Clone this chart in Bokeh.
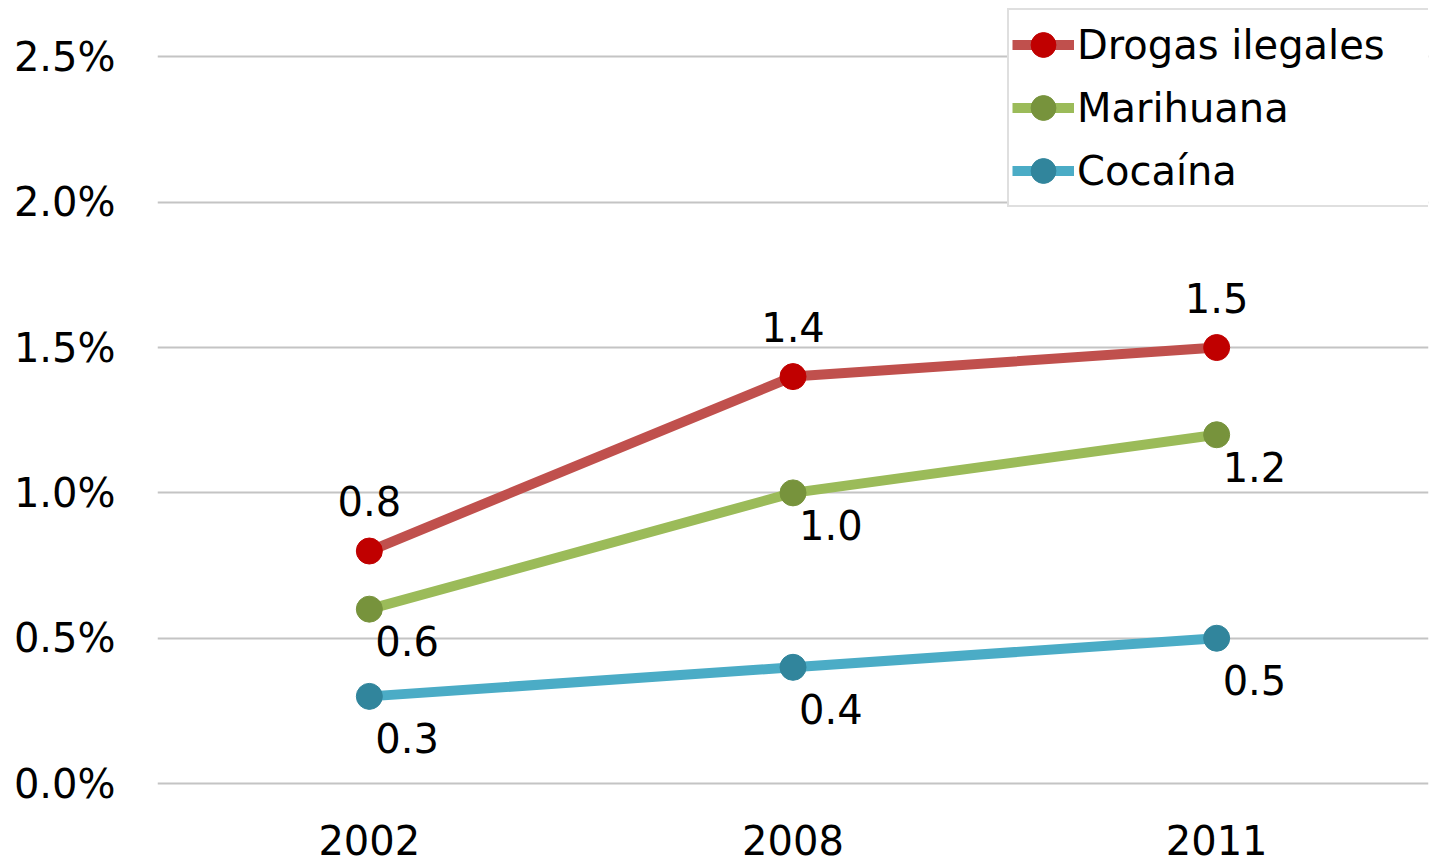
from bokeh.plotting import figure
from bokeh.models import FactorRange, Range1d, FixedTicker, PrintfTickFormatter, Legend, LegendItem, ColumnDataSource
from bokeh.core.properties import value
from bokeh.embed import file_html
from bokeh.resources import INLINE

years = ["2002", "2008", "2011"]
drogas = [0.8, 1.4, 1.5]
marihuana = [0.6, 1.0, 1.2]
cocaina = [0.3, 0.4, 0.5]
series_names = ["Drogas ilegales", "Marihuana", "Cocaína"]
y_ticks = [0.0, 0.5, 1.0, 1.5, 2.0, 2.5]

FONT = "DejaVu Sans"

p = figure(width=1435, height=862, x_range=FactorRange(*years, range_padding=0),
           y_range=Range1d(-0.01, 2.68), output_backend="svg", toolbar_location=None,
           min_border_left=157, min_border_right=7, min_border_top=4, min_border_bottom=76)
p.outline_line_color = None
p.xgrid.grid_line_color = None
p.ygrid.grid_line_color = "#C4C4C4"
p.ygrid.grid_line_width = 2
p.yaxis.ticker = FixedTicker(ticks=y_ticks)
p.yaxis.formatter = PrintfTickFormatter(format="%.1f%%")
for ax in (p.xaxis[0], p.yaxis[0]):
    ax.axis_line_color = None
    ax.major_tick_line_color = None
    ax.minor_tick_line_color = None
    ax.major_tick_out = 0
    ax.major_tick_in = 0
    ax.major_label_text_font = FONT
    ax.major_label_text_font_size = "40px"
    ax.major_label_text_color = "#000000"
p.yaxis.major_label_standoff = 42
p.xaxis.major_label_standoff = 38

styles = [
    (drogas, "#C0504D", "#C00000", "center", 0, -50),
    (marihuana, "#9BBB59", "#77933C", "left", 6, 32),
    (cocaina, "#4BACC6", "#31859C", "left", 6, 42),
]
items = []
for name, (vals, lc, mc, align, dx, dy) in zip(series_names, styles):
    src = ColumnDataSource(dict(x=years, y=vals, t=["%.1f" % v for v in vals]))
    ln = p.line("x", "y", source=src, line_color=lc, line_width=10)
    sc = p.scatter("x", "y", source=src, size=26, fill_color=mc, line_color=mc)
    p.text("x", "y", text="t", source=src, text_font=value(FONT), text_font_size="40px",
           text_align=align, text_baseline="middle", x_offset=dx, y_offset=dy, text_color="#000000")
    items.append(LegendItem(label=name, renderers=[ln, sc]))

legend = Legend(items=items, location=(850, 579), padding=3, spacing=0,
                label_height=63, glyph_height=63, glyph_width=62, label_standoff=3,
                label_width=349, label_text_font=FONT, label_text_font_size="40px",
                label_text_color="#000000",
                border_line_color="#BFBFBF", border_line_width=2, background_fill_alpha=1,
                margin=0)
p.add_layout(legend, "center")

open("out.html", "w").write(file_html(p, INLINE))
